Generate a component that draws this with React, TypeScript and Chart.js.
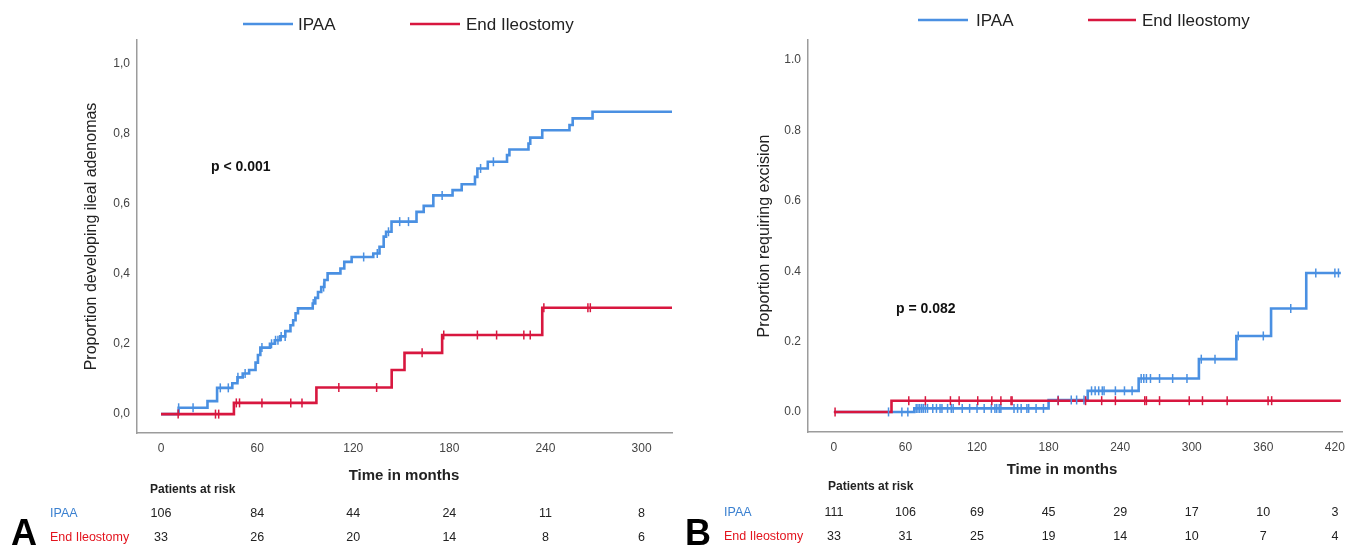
import React, { useEffect, useRef } from 'react';
import { Chart, registerables } from 'chart.js';

Chart.register(...registerables);

const FONT = '"Liberation Sans", Arial, Helvetica, sans-serif';
const BLUE = '#4a90e2';
const RED = '#d8173f';
const BLUE_TEXT = '#3a80d0';
const RED_TEXT = '#e3141e';

// ---------- Panel A data ----------
const A_IPAA_T = [0, 11, 29, 35, 44.5, 47.7, 51, 55, 59, 60.5, 62, 68, 71, 74.4, 77.6, 80.8, 82.5, 84, 85.5, 94.7, 96.3, 98, 100, 102, 104, 112, 114.4, 119, 132.5, 136.4, 139, 140.5, 143.9, 159.5, 164, 170, 182, 187.7, 196, 197.5, 204, 216, 217.5, 229.4, 230.5, 238, 255, 257, 269.4, 319];
const A_IPAA_V = [0, 0.018, 0.037, 0.075, 0.088, 0.105, 0.116, 0.126, 0.147, 0.169, 0.19, 0.201, 0.211, 0.222, 0.237, 0.254, 0.268, 0.288, 0.302, 0.316, 0.332, 0.349, 0.363, 0.383, 0.402, 0.416, 0.435, 0.449, 0.459, 0.478, 0.507, 0.521, 0.55, 0.578, 0.595, 0.625, 0.64, 0.657, 0.678, 0.702, 0.721, 0.74, 0.756, 0.773, 0.79, 0.811, 0.826, 0.845, 0.864, 0.864];
const A_IPAA_CENSOR = [11, 20, 37, 42, 48, 52.5, 63, 69, 71.5, 73, 75, 77.5, 95, 101.5, 126.5, 135, 142, 149, 154.5, 175.5, 199.5, 207.5];
const A_ILEO_T = [0, 45.5, 97, 144, 152, 175.5, 238, 319];
const A_ILEO_V = [0, 0.032, 0.076, 0.126, 0.175, 0.226, 0.304, 0.304];
const A_ILEO_CENSOR = [10.7, 34, 36, 47, 49, 63, 81, 88, 111, 134.6, 163, 176.5, 197.5, 209.5, 226.5, 230.5, 239, 266.5, 268];
const A_X_TICKS = [0, 60, 120, 180, 240, 300];
const A_RISK_IPAA = [106, 84, 44, 24, 11, 8];
const A_RISK_ILEO = [33, 26, 20, 14, 8, 6];

// ---------- Panel B data ----------
const B_IPAA_T = [0, 67.4, 180, 212.8, 255.5, 306, 337.4, 366.5, 396, 425];
const B_IPAA_V = [0, 0.01, 0.034, 0.06, 0.095, 0.15, 0.216, 0.294, 0.395, 0.395];
const B_IPAA_CENSOR = [45.8, 57, 62, 69, 70.5, 72, 73.6, 75, 76.7, 78.5, 82.9, 86, 89, 90.6, 95.3, 98.4, 100, 107.6, 113.8, 120, 126, 132, 135, 136.5, 138.6, 140, 151, 154, 157, 161.8, 163.3, 169.5, 175.7, 188, 199, 203.5, 209.7, 216, 219, 222, 225, 226.5, 236, 243.6, 250, 257.6, 259.8, 262, 265.4, 273, 284, 296, 308, 319.5, 339, 360, 383, 404, 420, 423];
const B_ILEO_T = [0, 48.3, 425];
const B_ILEO_V = [0, 0.032, 0.032];
const B_ILEO_CENSOR = [1, 62.8, 76.7, 97.7, 105, 120.6, 132.4, 140, 148.5, 149.4, 188, 211, 224.5, 236, 260.6, 262, 273, 297.9, 309, 329.7, 364, 367];
const B_X_TICKS = [0, 60, 120, 180, 240, 300, 360, 420];
const B_RISK_IPAA = [111, 106, 69, 45, 29, 17, 10, 3];
const B_RISK_ILEO = [33, 31, 25, 19, 14, 10, 7, 4];

const Y_TICKS = [0, 0.2, 0.4, 0.6, 0.8, 1.0];
const SERIES = ['IPAA', 'End Ileostomy'];

function levelAt(T: number[], V: number[], t: number) {
  let v = V[0];
  for (let i = 0; i < T.length; i++) if (T[i] <= t) v = V[i];
  return v;
}

const decorPlugin = {
  id: 'kmDecor',
  afterDraw(chart: any, _args: any, o: any) {
    const ctx = chart.ctx;
    const xs = chart.scales.x;
    ctx.save();
    // legend
    o.legend.forEach((it: any) => {
      ctx.strokeStyle = it.color;
      ctx.lineWidth = 2.6;
      ctx.beginPath();
      ctx.moveTo(it.x1, it.y);
      ctx.lineTo(it.x2, it.y);
      ctx.stroke();
      ctx.fillStyle = '#222';
      ctx.font = `17px ${FONT}`;
      ctx.textBaseline = 'middle';
      ctx.textAlign = 'left';
      ctx.fillText(it.text, it.tx, it.y + 1);
    });
    // p value
    ctx.font = `bold 14px ${FONT}`;
    ctx.fillStyle = '#111';
    ctx.textAlign = 'left';
    ctx.textBaseline = 'middle';
    ctx.fillText(o.pText, o.pX, o.pY);
    // x title
    ctx.font = `bold 15px ${FONT}`;
    ctx.textAlign = 'center';
    ctx.fillStyle = '#222';
    ctx.fillText('Time in months', o.xTitleX, o.xTitleY);
    // patients at risk
    ctx.font = `bold 12px ${FONT}`;
    ctx.textAlign = 'left';
    ctx.fillText('Patients at risk', o.parX, o.parY);
    o.rows.forEach((r: any) => {
      ctx.font = `12.5px ${FONT}`;
      ctx.textAlign = 'left';
      ctx.fillStyle = r.color;
      ctx.fillText(r.label, o.rowLabelX, r.y);
      ctx.fillStyle = '#222';
      ctx.textAlign = 'center';
      r.values.forEach((v: number, i: number) => {
        ctx.fillText(String(v), xs.getPixelForValue(o.ticks[i]), r.y);
      });
    });
    // panel letter
    ctx.font = `bold 36px ${FONT}`;
    ctx.fillStyle = '#000';
    ctx.textAlign = 'left';
    ctx.textBaseline = 'alphabetic';
    ctx.fillText(o.letter, o.letterX, o.letterY);
    ctx.restore();
  },
};

function buildConfig(p: any) {
  const steps = (T: number[], V: number[]) => T.map((t, i) => ({ x: t, y: V[i] }));
  const cens = (C: number[], T: number[], V: number[]) => C.map((t) => ({ x: t, y: levelAt(T, V, t) }));
  const censorStyle = (color: string) => ({
    showLine: false,
    pointStyle: 'line',
    pointRotation: 90,
    pointRadius: 4.5,
    pointHoverRadius: 4.5,
    pointBorderWidth: 1.5,
    pointBorderColor: color,
    pointBackgroundColor: color,
    borderColor: color,
  });
  return {
    type: 'line',
    data: {
      datasets: [
        { label: SERIES[1] + ' censored', data: cens(p.ileoC, p.ileoT, p.ileoV), order: 0, ...censorStyle(RED) },
        { label: SERIES[0] + ' censored', data: cens(p.ipaaC, p.ipaaT, p.ipaaV), order: 1, ...censorStyle(BLUE) },
        { label: SERIES[1], data: steps(p.ileoT, p.ileoV), borderColor: RED, borderWidth: 2.6, stepped: true, pointRadius: 0, fill: false, order: 2 },
        { label: SERIES[0], data: steps(p.ipaaT, p.ipaaV), borderColor: BLUE, borderWidth: 2.6, stepped: true, pointRadius: 0, fill: false, order: 3 },
      ],
    },
    options: {
      responsive: false,
      animation: false,
      events: [],
      layout: { padding: { left: 0, right: p.padRight, top: 40, bottom: p.padBottom } },
      plugins: {
        legend: { display: false },
        tooltip: { enabled: false },
        kmDecor: p.decor,
      },
      scales: {
        x: {
          type: 'linear',
          min: p.xMin,
          max: p.xMax,
          afterBuildTicks: (s: any) => { s.ticks = p.xTicks.map((v: number) => ({ value: v })); },
          afterFit: (s: any) => { s.height = p.xAxisHeight; },
          grid: { display: false, drawTicks: false },
          border: { display: true, color: '#9c9c9c', width: 1.5 },
          ticks: { font: { family: FONT, size: 12 }, color: '#444', padding: 8, maxRotation: 0, autoSkip: false },
        },
        y: {
          type: 'linear',
          min: p.yMin,
          max: p.yMax,
          afterBuildTicks: (s: any) => { s.ticks = Y_TICKS.map((v) => ({ value: v })); },
          afterFit: (s: any) => { s.width = p.yAxisWidth; },
          grid: { display: false, drawTicks: false },
          border: { display: true, color: '#9c9c9c', width: 1.5 },
          ticks: {
            font: { family: FONT, size: 12 },
            color: '#444',
            padding: 7,
            callback: (v: number) => (p.comma ? v.toFixed(1).replace('.', ',') : v.toFixed(1)),
          },
          title: {
            display: true,
            text: p.yTitle,
            font: { family: FONT, size: 16 },
            color: '#222',
            padding: { top: p.yTitleOffset, bottom: 0 },
          },
        },
      },
    },
    plugins: [decorPlugin],
  };
}

const PANEL_A = {
  ipaaT: A_IPAA_T, ipaaV: A_IPAA_V, ipaaC: A_IPAA_CENSOR,
  ileoT: A_ILEO_T, ileoV: A_ILEO_V, ileoC: A_ILEO_CENSOR,
  xTicks: A_X_TICKS, xMin: -15, xMax: 319, yMin: -0.054, yMax: 1.069,
  padRight: 8, padBottom: 60, xAxisHeight: 52, yAxisWidth: 137, yTitleOffset: 82.4,
  comma: true, yTitle: 'Proportion developing ileal adenomas',
  decor: {
    legend: [
      { x1: 243, x2: 293, y: 24, tx: 298, text: SERIES[0], color: BLUE },
      { x1: 410, x2: 460, y: 24, tx: 466, text: SERIES[1], color: RED },
    ],
    pText: 'p < 0.001', pX: 211, pY: 167,
    xTitleX: 404, xTitleY: 476,
    parX: 150, parY: 490,
    rowLabelX: 50,
    ticks: A_X_TICKS,
    rows: [
      { label: SERIES[0], color: BLUE_TEXT, y: 514, values: A_RISK_IPAA },
      { label: SERIES[1], color: RED_TEXT, y: 538, values: A_RISK_ILEO },
    ],
    letter: 'A', letterX: 11, letterY: 545,
  },
};

const PANEL_B = {
  ipaaT: B_IPAA_T, ipaaV: B_IPAA_V, ipaaC: B_IPAA_CENSOR,
  ileoT: B_ILEO_T, ileoV: B_ILEO_V, ileoC: B_ILEO_CENSOR,
  xTicks: B_X_TICKS, xMin: -21.7, xMax: 426, yMin: -0.057, yMax: 1.057,
  padRight: 8, padBottom: 66, xAxisHeight: 47, yAxisWidth: 128, yTitleOffset: 75.4,
  comma: false, yTitle: 'Proportion requiring excision',
  decor: {
    legend: [
      { x1: 238, x2: 288, y: 20, tx: 296, text: SERIES[0], color: BLUE },
      { x1: 408, x2: 456, y: 20, tx: 462, text: SERIES[1], color: RED },
    ],
    pText: 'p = 0.082', pX: 216, pY: 309,
    xTitleX: 382, xTitleY: 470,
    parX: 148, parY: 487,
    rowLabelX: 44,
    ticks: B_X_TICKS,
    rows: [
      { label: SERIES[0], color: BLUE_TEXT, y: 513, values: B_RISK_IPAA },
      { label: SERIES[1], color: RED_TEXT, y: 537, values: B_RISK_ILEO },
    ],
    letter: 'B', letterX: 5, letterY: 545,
  },
};

function Panel({ spec, left, width }: { spec: any; left: number; width: number }) {
  const ref = useRef<HTMLCanvasElement | null>(null);
  useEffect(() => {
    if (!ref.current) return;
    const chart = new Chart(ref.current, buildConfig(spec) as any);
    return () => chart.destroy();
  }, [spec]);
  return (
    <canvas
      ref={ref}
      width={width}
      height={545}
      style={{ position: 'absolute', left, top: 0, width, height: 545 }}
    />
  );
}

export default function App() {
  return (
    <div style={{ position: 'absolute', left: 0, top: 0, width: 1353, height: 545, background: '#fff', overflow: 'hidden' }}>
      <Panel spec={PANEL_A} left={0} width={680} />
      <Panel spec={PANEL_B} left={680} width={673} />
    </div>
  );
}
